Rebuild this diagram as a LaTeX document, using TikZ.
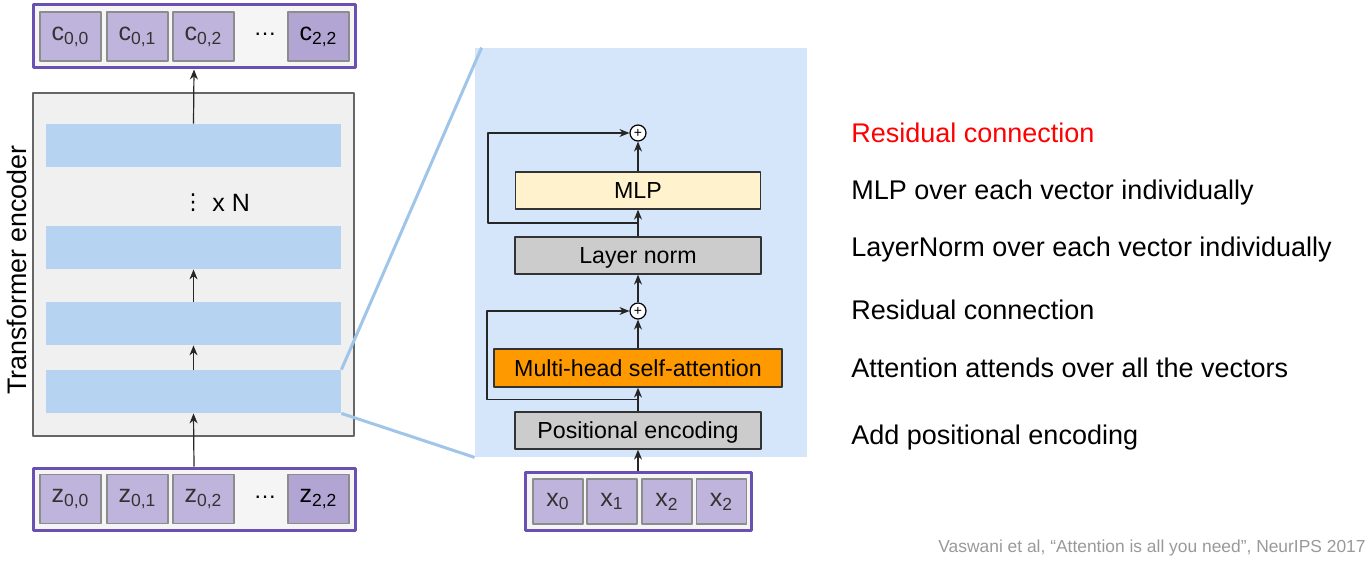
\documentclass[tikz,border=0pt]{standalone}
\usepackage{fontspec}
\setmainfont{Liberation Sans}
\newfontfamily\dvfont{DejaVu Sans}
\usetikzlibrary{calc,arrows.meta}
\definecolor{cellc}{HTML}{BFB5DC}
\definecolor{cellcc}{HTML}{B2A5D4}
\definecolor{seqc}{HTML}{6A50B0}
\definecolor{barc}{HTML}{B7D3F2}
\definecolor{panelc}{HTML}{D5E6FB}
\definecolor{zoomc}{HTML}{9FC5E8}
\definecolor{mlpc}{HTML}{FFF2CC}
\definecolor{attc}{HTML}{FF9900}
\newcommand{\fs}[1]{\fontsize{#1}{#1}\selectfont}
\tikzset{
  seqbox/.style={draw=seqc,fill=black!4,line width=1.5pt},
  cell/.style={draw=black!45,fill=cellc,line width=0.8pt,text=black!80,
    minimum width=30.5pt,minimum height=24.5pt,inner sep=0pt,font=\fs{12.5}},
  xcell/.style={cell,minimum width=25pt,minimum height=22.5pt},
  bar/.style={fill=barc,minimum width=147.5pt,minimum height=21.5pt,inner sep=0pt},
  blk/.style={draw=black!80,line width=0.65pt,minimum height=18.5pt,inner sep=0pt,text depth=0pt,font=\fs{11.6}},
  plus/.style={draw=black,fill=white,circle,line width=0.6pt,minimum size=8pt,inner sep=0pt,font=\fs{7}},
  note/.style={anchor=west,inner sep=0pt,text depth=0pt,font=\fs{13.5}},
  arr/.style={-{Stealth[length=5pt,width=4pt]},line width=0.6pt,black!85}
}
\begin{document}
\begin{tikzpicture}[x=0.5pt,y=-0.5pt,line join=round]
\useasboundingbox (0,0) rectangle (1370,561);
% output tokens
\node[seqbox,minimum width=161pt,minimum height=31.5pt] (ctop) at (194,36.5) {};
\node[cell] (c00) at (70.5,36.5) {c\textsubscript{0,0}};
\node[cell] (c01) at (137.5,36.5) {c\textsubscript{0,1}};
\node[cell] (c02) at (203.5,36.5) {c\textsubscript{0,2}};
\node[font=\fs{11.5}] (cdots) at (265,34) {\dots};
\node[cell,fill=cellcc,text=black] (c22) at (318.5,36.5) {c\textsubscript{2,2}};
% encoder
\node[draw=black!60,fill=black!6,line width=1pt,minimum width=160.5pt,minimum height=171.5pt] (enc) at (193.5,264.5) {};
\node[rotate=90,font=\fs{13.4}] (enclab) at (17,270) {Transformer encoder};
\node[bar] (bar1) at (193.5,145.5) {};
\node[bar] (bar2) at (193.5,247.5) {};
\node[bar] (bar3) at (193.5,323.5) {};
\node[bar] (bar4) at (193.5,391.5) {};
\node[font=\fs{11}\dvfont] (vd) at (193,203) {⋮};
\node[anchor=west,inner sep=0pt,font=\fs{12.5}] (xn) at (212,203) {x N};
% input tokens
\node[seqbox,minimum width=161pt,minimum height=31pt] (zbot) at (194,499) {};
\node[cell] (z00) at (70.5,499) {z\textsubscript{0,0}};
\node[cell] (z01) at (137.5,499) {z\textsubscript{0,1}};
\node[cell] (z02) at (203.5,499) {z\textsubscript{0,2}};
\node[font=\fs{11.5}] (zdots) at (265,497) {\dots};
\node[cell,fill=cellcc,text=black] (z22) at (318.5,499) {z\textsubscript{2,2}};
\draw[arr] (zbot.north) -- (bar4.south);
\draw[arr] (bar4.north) -- (bar3.south);
\draw[arr] (bar3.north) -- (bar2.south);
\draw[arr] (bar1.north) -- (ctop.south);
% zoomed block
\node[fill=panelc,minimum width=166pt,minimum height=204.5pt,inner sep=0pt] (panel) at (641,252.5) {};
\draw[zoomc,line width=1.5pt] (bar4.north east) -- ($(panel.north west)+(7,0)$);
\draw[zoomc,line width=1.5pt] (bar4.south east) -- (panel.south west);
\node[plus] (plus1) at (638,133) {+};
\node[blk,fill=mlpc,minimum width=122.5pt] (mlp) at (638,190.5) {MLP};
\node[blk,fill=black!20,minimum width=123pt] (ln) at (638,255.5) {Layer norm};
\node[plus] (plus2) at (638,311) {+};
\node[blk,fill=attc,minimum width=144pt,minimum height=19pt] (att) at (638,368) {Multi-head self-attention};
\node[blk,fill=black!20,minimum width=123pt] (pe) at (638,430.5) {Positional encoding};
\node[seqbox,minimum width=113pt,minimum height=29pt] (xin) at (638,501) {};
\node[xcell] (x0) at (558,501.5) {x\textsubscript{0}};
\node[xcell] (x1) at (612,501.5) {x\textsubscript{1}};
\node[xcell] (x2) at (667,501.5) {x\textsubscript{2}};
\node[xcell] (x3) at (721.5,501.5) {x\textsubscript{2}};
\draw[arr] (xin.north) -- (pe.south);
\draw[arr] (pe.north) -- (att.south);
\draw[arr] (att.north) -- (plus2.south);
\draw[arr] (plus2.north) -- (ln.south);
\draw[arr] (ln.north) -- (mlp.south);
\draw[arr] (mlp.north) -- (plus1.south);
\coordinate (b1) at ($(pe.north)!.5!(att.south)$);
\coordinate (b2) at ($(ln.north)!.5!(mlp.south)$);
\draw[arr] (b1) -- ++(-151,0) |- (plus2.west);
\draw[arr] (b2) -- ++(-150,0) |- (plus1.west);
% notes
\node[note,text=red] (n1) at (851,133) {Residual connection};
\node[note] (n2) at (851,190) {MLP over each vector individually};
\node[note] (n3) at (851,247) {LayerNorm over each vector individually};
\node[note] (n4) at (851,310) {Residual connection};
\node[note] (n5) at (851,368) {Attention attends over all the vectors};
\node[note] (n6) at (851,435) {Add positional encoding};
\node[anchor=east,inner sep=0pt,text=black!40,font=\fs{8.7}] (cite) at (1366,548) {Vaswani et al, “Attention is all you need”, NeurIPS 2017};
\end{tikzpicture}
\end{document}
